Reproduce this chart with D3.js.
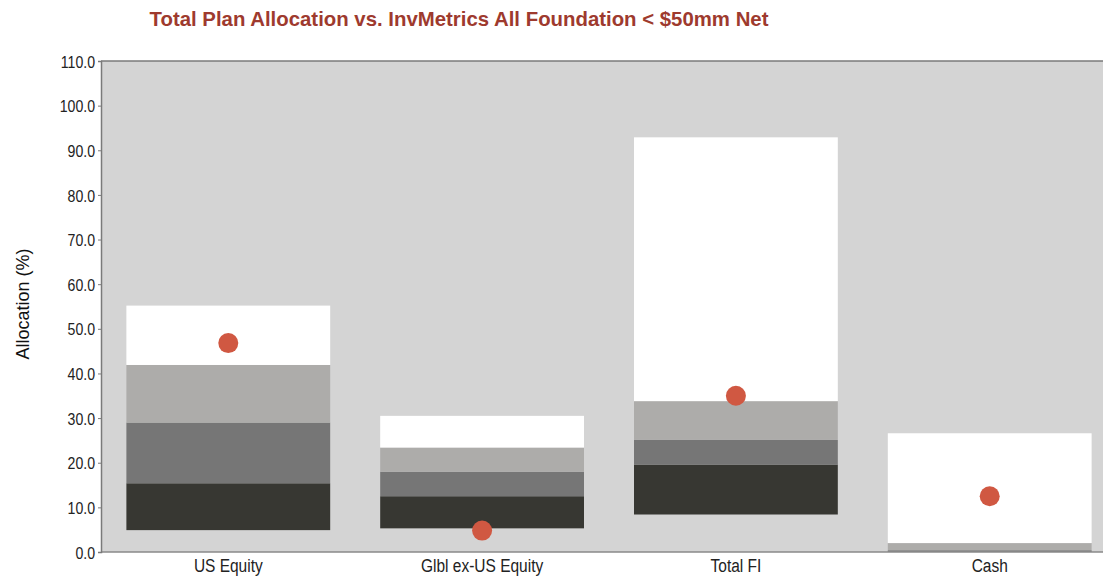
<!DOCTYPE html>
<html><head><meta charset="utf-8">
<script src="https://cdn.jsdelivr.net/npm/d3@7"></script>
<style>body{margin:0;background:#fff;} svg{display:block;}</style>
</head><body>
<svg id="chart" width="1103" height="577"></svg>
<script>
const categories = ["US Equity", "Glbl ex-US Equity", "Total FI", "Cash"];
const p05 = [4.9, 5.3, 8.4, 0.0];
const p25 = [15.4, 12.5, 19.6, 0.1];
const p50 = [29.0, 18.0, 25.1, 0.4];
const p75 = [41.9, 23.4, 33.8, 2.0];
const p95 = [55.2, 30.5, 92.9, 26.6];
const plan = [46.8, 4.8, 35.0, 12.5];
const yTicks = [0, 10, 20, 30, 40, 50, 60, 70, 80, 90, 100, 110];
const title = "Total Plan Allocation vs. InvMetrics All Foundation < $50mm Net";

const font = "'Liberation Sans', Arial, sans-serif";
const svg = d3.select("#chart");
const m = {left: 101, top: 61, right: 1117, bottom: 552};

function condense(sel, factor) {
  sel.each(function() {
    const w = this.getComputedTextLength();
    d3.select(this).attr("textLength", w * factor).attr("lengthAdjust", "spacingAndGlyphs");
  });
}

const x = d3.scaleBand().domain(categories).range([m.left, m.right]).paddingInner(0.197).paddingOuter(0.1);
const y = d3.scaleLinear().domain([0, 110]).range([m.bottom, m.top]);

svg.append("rect").attr("x", m.left).attr("y", m.top).attr("width", m.right - m.left).attr("height", m.bottom - m.top).attr("fill", "#d4d4d4");

const segColors = ["#373732", "#767676", "#adacaa", "#ffffff"];
const bounds = [p05, p25, p50, p75, p95];
categories.forEach((c, i) => {
  for (let s = 0; s < 4; s++) {
    const lo = bounds[s][i], hi = bounds[s + 1][i];
    svg.append("rect").attr("x", x(c)).attr("width", x.bandwidth())
      .attr("y", y(hi)).attr("height", Math.max(0, y(lo) - y(hi)))
      .attr("fill", segColors[s]);
  }
});

svg.selectAll("circle.plan").data(categories).enter().append("circle")
  .attr("cx", d => x(d) + x.bandwidth() / 2).attr("cy", (d, i) => y(plan[i])).attr("r", 10)
  .attr("fill", "#d05842");

// frame
svg.append("line").attr("x1", m.left).attr("x2", 1103).attr("y1", m.top).attr("y2", m.top).attr("stroke", "#7a7a7a").attr("stroke-width", 1.5);
svg.append("line").attr("x1", m.left).attr("x2", 1103).attr("y1", m.bottom).attr("y2", m.bottom).attr("stroke", "#8a8a8a").attr("stroke-width", 1.5);

const yAxis = svg.append("g").attr("transform", `translate(${m.left},0)`)
  .call(d3.axisLeft(y).tickValues(yTicks).tickFormat(d3.format(".1f")).tickSize(3));
yAxis.select(".domain").attr("stroke", "#7a7a7a").attr("stroke-width", 1.5);
yAxis.selectAll(".tick line").attr("stroke", "#7a7a7a");
yAxis.selectAll("text").attr("font-family", font).attr("font-size", 17).attr("fill", "#222").attr("x", -6).attr("dy", "0.36em");
condense(yAxis.selectAll("text"), 0.83);

const xAxis = svg.append("g").attr("transform", `translate(0,${m.bottom})`)
  .call(d3.axisBottom(x).tickSize(0));
xAxis.select(".domain").remove();
xAxis.selectAll("text").attr("font-family", font).attr("font-size", 18).attr("fill", "#222").attr("dy", "0.95em");
condense(xAxis.selectAll("text"), 0.86);

const yl = svg.append("text").attr("transform", `translate(29,${304}) rotate(-90)`)
  .attr("text-anchor", "middle").attr("font-family", font).attr("font-size", 18).attr("fill", "#111")
  .text("Allocation (%)");
condense(yl, 1.0);

const t = svg.append("text").attr("x", 459).attr("y", 26).attr("text-anchor", "middle")
  .attr("font-family", font).attr("font-size", 21).attr("font-weight", "bold").attr("fill", "#9e3a2e")
  .text(title);
condense(t, 0.97);
</script>
</body></html>
